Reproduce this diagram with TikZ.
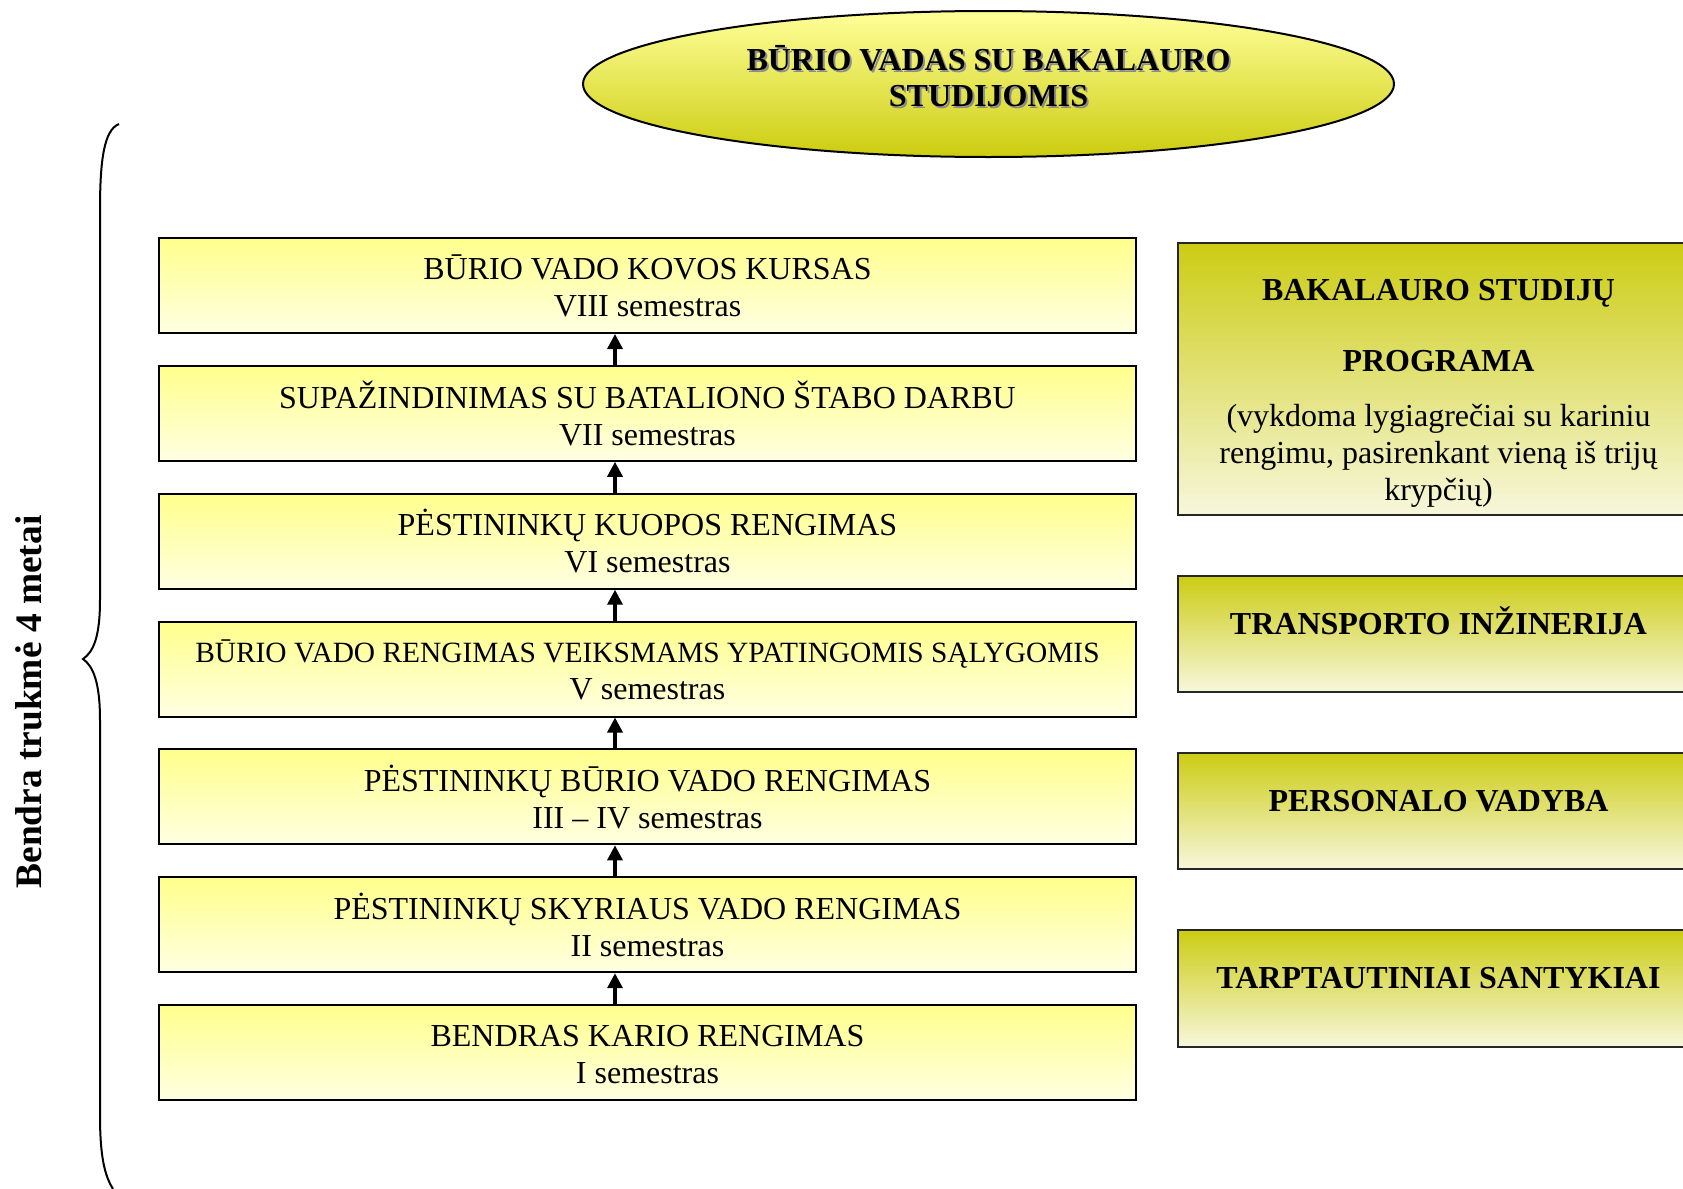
\documentclass[tikz,border=0pt]{standalone}
\usepackage{fontspec}
\setmainfont{Liberation Serif}
\usetikzlibrary{shapes.geometric,arrows.meta}

\definecolor{stageTop}{HTML}{FFFF8C}
\definecolor{stageBot}{HTML}{FFFFE2}
\definecolor{progTop}{HTML}{CCCC14}
\definecolor{progBot}{HTML}{F7F7DC}
\definecolor{titleTop}{HTML}{FFFF99}
\definecolor{titleBot}{HTML}{CCCC10}

\begin{document}
\begin{tikzpicture}[x=0.5pt,y=-0.5pt,
  stagebox/.style={draw=black, line width=1pt, top color=stageTop, bottom color=stageBot,
    minimum width=488.5pt, minimum height=47.5pt, inner sep=0pt, align=center,
    font=\fontsize{16pt}{18.5pt}\selectfont},
  progbox/.style={draw=black!85, line width=1pt, top color=progTop, bottom color=progBot,
    minimum width=260.5pt, inner sep=0pt},
  progtext/.style={font=\fontsize{16pt}{18.5pt}\selectfont, align=center, inner sep=0pt},
  upflow/.style={-{Triangle[length=7.5pt,width=7.5pt]}, line width=1.7pt},
  titletext/.style={font=\fontsize{16pt}{18.25pt}\selectfont\bfseries, align=center, inner sep=0pt},
]
\useasboundingbox (0,0) rectangle (1683,1189);
\clip (0,0) rectangle (1683,1189);

% Title ellipse
\node[ellipse, draw=black, line width=1pt, top color=titleTop, bottom color=titleBot,
      minimum width=405.5pt, minimum height=73pt, inner sep=0pt] (title) at (988.5,84) {};
\node[titletext, text=black!45] (titleshadow) at (990.5,78) {BŪRIO VADAS SU BAKALAURO\\STUDIJOMIS};
\node[titletext] (titlelabel) at (988.5,76) {BŪRIO VADAS SU BAKALAURO\\STUDIJOMIS};

% Semester stages, bottom to top
\node[stagebox] (s8) at (647.5,285.5)  {\vphantom{Ū}BŪRIO VADO KOVOS KURSAS\\VIII semestras};
\node[stagebox] (s7) at (647.5,413.3)  {\vphantom{Ū}SUPAŽINDINIMAS SU BATALIONO ŠTABO DARBU\\VII semestras};
\node[stagebox] (s6) at (647.5,541.2)  {\vphantom{Ū}PĖSTININKŲ KUOPOS RENGIMAS\\VI semestras};
\node[stagebox] (s5) at (647.5,669)    {\vphantom{Ū}{\fontsize{14.7pt}{18.5pt}\selectfont BŪRIO VADO RENGIMAS VEIKSMAMS YPATINGOMIS SĄLYGOMIS}\\V semestras};
\node[stagebox] (s4) at (647.5,796.8)  {\vphantom{Ū}PĖSTININKŲ BŪRIO VADO RENGIMAS\\III – IV semestras};
\node[stagebox] (s2) at (647.5,924.7)  {\vphantom{Ū}PĖSTININKŲ SKYRIAUS VADO RENGIMAS\\II semestras};
\node[stagebox] (s1) at (647.5,1052.5) {\vphantom{Ū}BENDRAS KARIO RENGIMAS\\I semestras};

% Progression arrows
\coordinate (ax) at (615,0);
\draw[upflow] (s1.north -| ax) -- (s2.south -| ax);
\draw[upflow] (s2.north -| ax) -- (s4.south -| ax);
\draw[upflow] (s4.north -| ax) -- (s5.south -| ax);
\draw[upflow] (s5.north -| ax) -- (s6.south -| ax);
\draw[upflow] (s6.north -| ax) -- (s7.south -| ax);
\draw[upflow] (s7.north -| ax) -- (s8.south -| ax);

% Bachelor study programme and its three directions
\node[progbox, minimum height=136pt] (prog) at (1438.5,379) {};
\node[progtext] (progtext) at (1438.5,393.5)
  {\textbf{BAKALAURO STUDIJŲ}\\[17pt]\textbf{PROGRAMA}\\[9pt](vykdoma lygiagrečiai su kariniu\\rengimu, pasirenkant vieną iš trijų\\krypčių)};

\node[progbox, minimum height=58pt] (transport) at (1438.5,634) {};
\node[progtext, font=\fontsize{16pt}{18.5pt}\selectfont\bfseries] (transporttext) at (1438.5,621) {TRANSPORTO INŽINERIJA};

\node[progbox, minimum height=58pt] (personal) at (1438.5,811) {};
\node[progtext, font=\fontsize{16pt}{18.5pt}\selectfont\bfseries] (personaltext) at (1438.5,801.5) {PERSONALO VADYBA};

\node[progbox, minimum height=58.5pt] (intl) at (1438.5,988.5) {};
\node[progtext, font=\fontsize{16pt}{18.5pt}\selectfont\bfseries] (intltext) at (1438.5,978.5) {TARPTAUTINIAI SANTYKIAI};

% Duration brace and label
\draw[line width=1pt] (119,124) .. controls (104,130) and (100,160) .. (100,210)
  -- (100,600) .. controls (100,638) and (93,652) .. (83,659)
  .. controls (93,666) and (100,682) .. (100,720)
  -- (100,1115) .. controls (100,1158) and (105,1176) .. (113,1189);
\node[rotate=90, inner sep=0pt, font=\fontsize{18.7pt}{20pt}\selectfont\bfseries] (duration) at (29,702) {Bendra trukmė 4 metai};
\end{tikzpicture}
\end{document}
